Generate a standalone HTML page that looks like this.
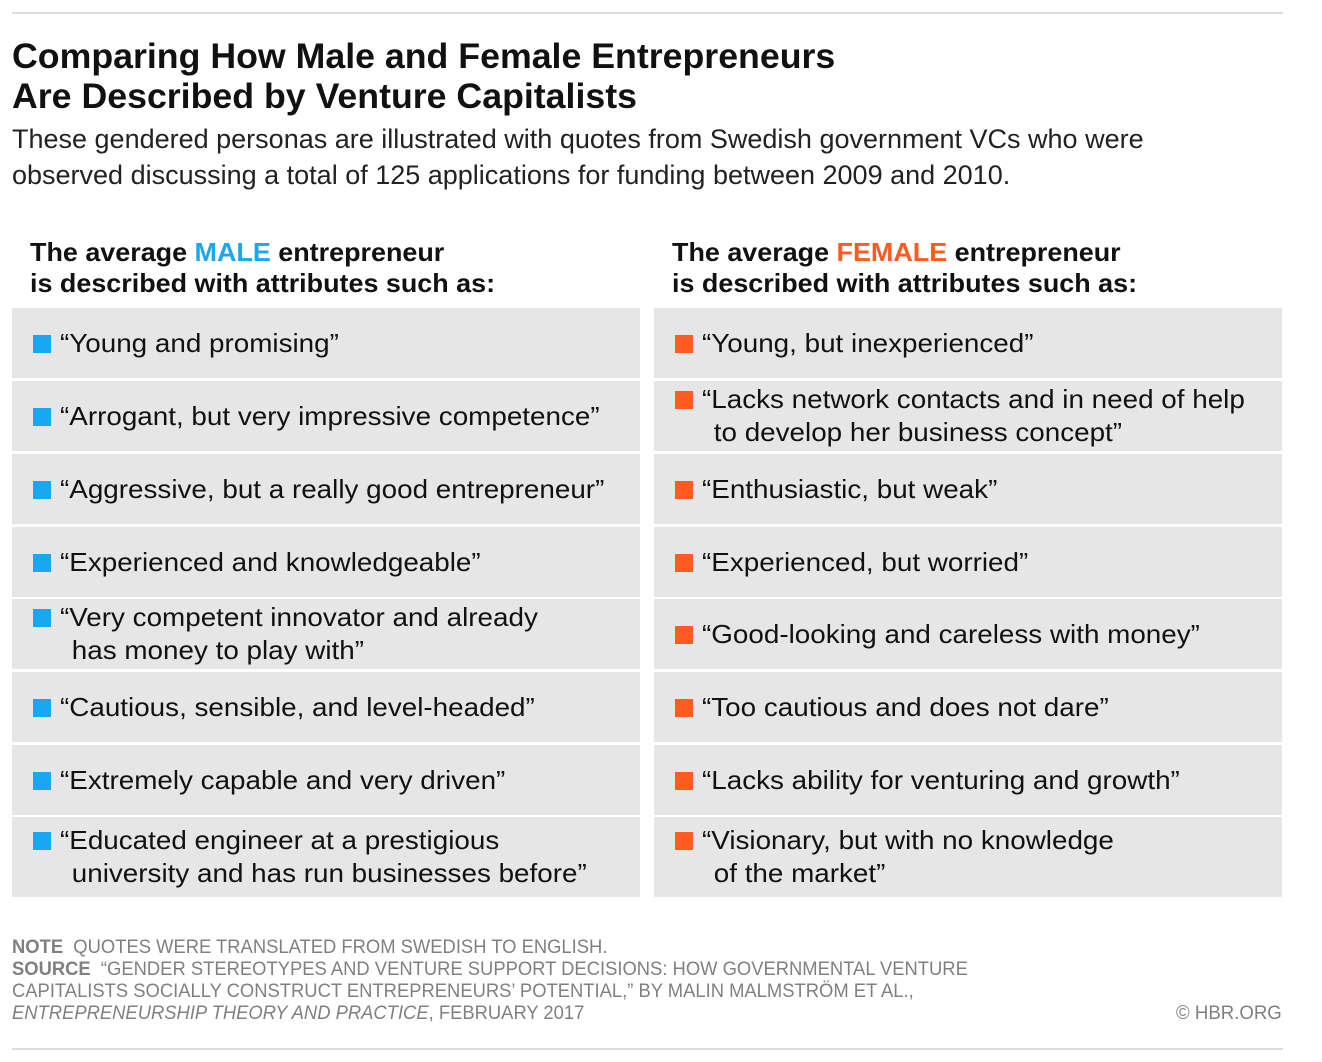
<!DOCTYPE html>
<html><head><meta charset="utf-8">
<style>
body{margin:0;width:1322px;height:1062px;background:#fff;position:relative;overflow:hidden;font-family:"Liberation Sans",sans-serif;color:#111}
.abs{position:absolute;white-space:nowrap}
.title{left:12px;font-weight:bold;font-size:35px;transform:scaleX(1.02);transform-origin:left top;line-height:40px}
.sub{left:12px;font-size:27px;line-height:36px;color:#222}
.hdr{font-weight:bold;font-size:26px;line-height:31px;transform:scaleX(1.035);transform-origin:left top}
.row{position:absolute;background:#e6e6e6;width:628px;display:flex;align-items:center}
.row .sq{position:absolute;left:21px;width:18px;height:18px}
.row .tx{position:absolute;left:48px;font-size:26px;line-height:33px;white-space:nowrap;transform:scaleX(1.07);transform-origin:left top}
.ind{padding-left:11px}
.foot{left:12px;font-size:19px;color:#808080;line-height:22px;transform:scaleX(0.968);transform-origin:left top}
</style></head><body>
<div class="abs" style="left:12px;top:12px;width:1271px;height:2px;background:#ddd"></div>
<div class="abs title" style="top:37px">Comparing How Male and Female Entrepreneurs<br>Are Described by Venture Capitalists</div>
<div class="abs sub" style="top:121px">These gendered personas are illustrated with quotes from Swedish government VCs who were<br>observed discussing a total of 125 applications for funding between 2009 and 2010.</div>

<div class="abs hdr" style="left:30px;top:237px">The average <span style="color:#1aa6f0">MALE</span> entrepreneur<br>is described with attributes such as:</div>
<div class="abs hdr" style="left:672px;top:237px">The average <span style="color:#ff5a1f">FEMALE</span> entrepreneur<br>is described with attributes such as:</div>

<div id="rows"></div>

<div class="abs foot" style="top:937px"><b>NOTE</b>&nbsp; QUOTES WERE TRANSLATED FROM SWEDISH TO ENGLISH.<br><b>SOURCE</b>&nbsp; “GENDER STEREOTYPES AND VENTURE SUPPORT DECISIONS: HOW GOVERNMENTAL VENTURE<br>CAPITALISTS SOCIALLY CONSTRUCT ENTREPRENEURS’ POTENTIAL,” BY MALIN MALMSTRÖM ET AL.,<br><i>ENTREPRENEURSHIP THEORY AND PRACTICE</i>, FEBRUARY 2017</div>
<div class="abs" style="left:1176px;top:1003px;font-size:19px;color:#808080;transform:scaleX(0.98);transform-origin:left top">© HBR.ORG</div>
<div class="abs" style="left:12px;top:1048px;width:1271px;height:2px;background:#ddd"></div>

<script>
const tops=[308,381,454,527,599,672,745,817];
const heights=[70,70,70,70,70,70,70,80];
const male=[["“Young and promising”"],["“Arrogant, but very impressive competence”"],["“Aggressive, but a really good entrepreneur”"],["“Experienced and knowledgeable”"],["“Very competent innovator and already","has money to play with”"],["“Cautious, sensible, and level-headed”"],["“Extremely capable and very driven”"],["“Educated engineer at a prestigious","university and has run businesses before”"]];
const female=[["“Young, but inexperienced”"],["“Lacks network contacts and in need of help","to develop her business concept”"],["“Enthusiastic, but weak”"],["“Experienced, but worried”"],["“Good-looking and careless with money”"],["“Too cautious and does not dare”"],["“Lacks ability for venturing and growth”"],["“Visionary, but with no knowledge","of the market”"]];
const root=document.getElementById('rows');
function build(list,left,color,prefix){
  list.forEach((lines,i)=>{
    const r=document.createElement('div');
    r.className='row';
    
    
    r.style.left=left+'px';r.style.top=tops[i]+'px';r.style.height=heights[i]+'px';
    const tx=document.createElement('div');
    tx.className='tx';
    
    
    tx.innerHTML=lines.map((l,j)=>j?'<div class="ind">'+l+'</div>':'<div>'+l+'</div>').join('');
    const h=lines.length*33;
    const t=(heights[i]-h)/2;
    tx.style.top=t+'px';
    const sq=document.createElement('div');
    sq.className='sq';
    
    
    sq.style.background=color;
    sq.style.top=(t+8)+'px';
    r.appendChild(sq);r.appendChild(tx);root.appendChild(r);
  });
}
build(male,12,'#1aa6f0','male');
build(female,654,'#ff5a1f','female');
</script>
</body></html>
